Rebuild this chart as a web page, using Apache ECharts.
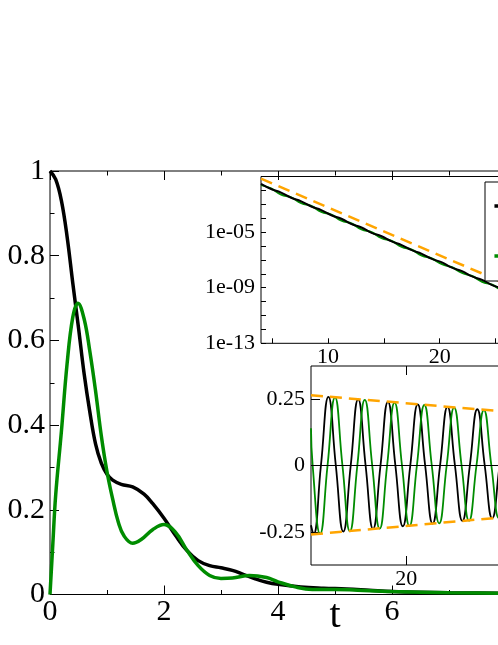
<!DOCTYPE html>
<html><head><meta charset="utf-8">
<script src="https://cdn.jsdelivr.net/npm/echarts@6/dist/echarts.min.js"></script>
<style>html,body{margin:0;padding:0;background:#fff}#c{width:498px;height:645px}</style>
</head><body><div id="c"></div>
<script>
// ---- main plot ----
const mainBlackT = [0, 0.1, 0.2, 0.3, 0.4, 0.5, 0.6, 0.7, 0.8, 0.9, 1.0, 1.1, 1.25, 1.45, 1.65, 1.8, 2.0, 2.2, 2.4, 2.6, 2.8, 3.0, 3.2, 3.4, 3.6, 3.8, 4.0, 4.4, 4.8, 5.2, 5.6, 6.0, 7.0, 8.0, 9.0, 10.0];
const mainBlack  = [1.0, 0.98, 0.93, 0.845, 0.735, 0.63, 0.52, 0.43, 0.355, 0.31, 0.284, 0.27, 0.26, 0.254, 0.237, 0.215, 0.18, 0.14, 0.104, 0.08, 0.068, 0.063, 0.057, 0.047, 0.037, 0.029, 0.024, 0.018, 0.015, 0.013, 0.01, 0.007, 0.004, 0.003, 0.002, 0.001];
const mainGreenT = [0, 0.05, 0.1, 0.2, 0.3, 0.4, 0.49, 0.6, 0.7, 0.8, 0.9, 1.0, 1.1, 1.2, 1.3, 1.45, 1.6, 1.8, 2.0, 2.2, 2.4, 2.6, 2.8, 3.0, 3.2, 3.5, 3.8, 4.0, 4.3, 4.6, 5.0, 5.4, 6.0, 7.0, 8.0, 9.0, 10.0];
const mainGreen  = [0, 0.12, 0.235, 0.385, 0.545, 0.655, 0.688, 0.65, 0.573, 0.48, 0.375, 0.29, 0.225, 0.17, 0.138, 0.121, 0.13, 0.153, 0.165, 0.147, 0.105, 0.068, 0.045, 0.038, 0.039, 0.045, 0.04, 0.03, 0.018, 0.012, 0.012, 0.01, 0.007, 0.004, 0.003, 0.002, 0.001];

// ---- inset 1 (log scale) ----
const logT = [4.0, 4.9, 5.8, 6.7, 7.6, 8.5, 9.4, 10.3, 11.2, 12.1, 13.0, 13.9, 14.8, 15.7, 16.6, 17.5, 18.4, 19.3, 20.2, 21.1, 22.0, 22.9, 23.8, 24.7, 25.6, 26.5, 27.4, 28.3, 29.2];
const logBlack = [2.95e-2, 1.26e-2, 6.92e-3, 2.95e-3, 1.62e-3, 6.92e-4, 3.80e-4, 1.62e-4, 9.12e-5, 3.80e-5, 2.14e-5, 8.91e-6, 5.01e-6, 2.14e-6, 1.17e-6, 5.01e-7, 2.75e-7, 1.17e-7, 6.61e-8, 2.75e-8, 1.55e-8, 6.46e-9, 3.63e-9, 1.55e-9, 8.51e-10, 3.63e-10, 2.00e-10, 8.51e-11, 4.79e-11];
const logGreen = [2.40e-2, 1.38e-2, 5.01e-3, 3.16e-3, 1.20e-3, 7.59e-4, 2.88e-4, 1.78e-4, 6.76e-5, 4.17e-5, 1.58e-5, 9.77e-6, 3.72e-6, 2.29e-6, 8.71e-7, 5.37e-7, 2.04e-7, 1.26e-7, 4.90e-8, 2.95e-8, 1.15e-8, 6.92e-9, 2.69e-9, 1.62e-9, 6.31e-10, 3.89e-10, 1.48e-10, 9.12e-11, 3.55e-11];
const logRefT = [4, 30];
const logRef  = [7.08e-2, 7.59e-11];
const inset1XLabels = [10, 20, 30];
const inset1XTicks  = [5, 10, 15, 20, 25, 30];
const inset1YLabelExps = [-13, -9, -5];

// ---- inset 2 (oscillations) ----
const oscBlackT = [14.25, 14.4, 14.85, 15.3, 15.75, 16.2, 16.65, 17.1, 17.55, 18.0, 18.45, 18.9, 19.35, 19.8, 20.25, 20.7, 21.15, 21.6, 22.05, 22.5, 22.95, 23.4, 23.85, 24.3, 24.75, 25.2, 25.65, 26.1, 26.55, 27.0];
const oscBlack  = [-0.225, -0.259, 0, 0.259, 0, -0.249, 0, 0.249, 0, -0.239, 0, 0.240, 0, -0.229, 0, 0.230, 0, -0.219, 0, 0.221, 0, -0.209, 0, 0.212, 0, -0.199, 0, 0.202, 0, -0.19];
const oscGreenT = [14.25, 14.35, 14.8, 15.25, 15.7, 16.15, 16.6, 17.05, 17.5, 17.95, 18.4, 18.85, 19.3, 19.75, 20.2, 20.65, 21.1, 21.55, 22.0, 22.45, 22.9, 23.35, 23.8, 24.25, 24.7, 25.15, 25.6, 26.05, 26.5, 26.95];
const oscGreen  = [0.14, 0, -0.258, 0, 0.257, 0, -0.248, 0, 0.247, 0, -0.238, 0, 0.237, 0, -0.228, 0, 0.228, 0, -0.218, 0, 0.218, 0, -0.208, 0, 0.209, 0, -0.198, 0, 0.199, 0];
const envT = [14.25, 30];
const envUpper = [0.265, 0.182];
const envLower = [-0.260, -0.172];
const inset2XLabels = [20, 30];
const inset2YLabels = [-0.25, 0, 0.25];

const legendNames = ['Re C(t)', 'Im C(t)'];

const BLACK = '#000000', GREEN = '#008c00', ORANGE = '#ffa500';
const FONT = '"Liberation Serif", "Times New Roman", serif';
const zip = (xs, ys) => xs.map((x, i) => [x, ys[i]]);

const chart = echarts.init(document.getElementById('c'), null, {renderer: 'canvas'});

const tickStyle = {lineStyle: {color: BLACK, width: 1}};
const gridBase = {show: true, borderColor: BLACK, borderWidth: 1, containLabel: false, outerBoundsMode: 'none', backgroundColor: 'transparent'};
chart.setOption({
  animation: false,
  backgroundColor: '#fff',
  grid: [
    {...gridBase, left: 50, top: 171, width: 570, height: 423.5},
    {...gridBase, left: 261, top: 176.5, width: 290.4, height: 166.8},
    {...gridBase, left: 311, top: 366, width: 260.6, height: 199}
  ],
  legend: {
    data: legendNames, orient: 'vertical', left: 485, top: 182,
    padding: [14, 5, 15, 7.7], itemGap: 30, itemWidth: 30, itemHeight: 14,
    borderColor: BLACK, borderWidth: 1, backgroundColor: '#fff',
    lineStyle: {width: 3.5},
    textStyle: {fontFamily: FONT, fontSize: 20, color: BLACK}, z: 10
  },
  xAxis: [
    {gridIndex: 0, type: 'value', min: 0, max: 10, interval: 2, position: 'bottom',
     axisLine: {show: false, onZero: false}, splitLine: {show: false},
     axisTick: {inside: true, length: 9, ...tickStyle},
     minorTick: {show: true, splitNumber: 2, length: 4.5, lineStyle: {color: BLACK}},
     axisLabel: {fontFamily: FONT, fontSize: 30, color: BLACK, margin: 3},
     name: 't', nameLocation: 'middle', nameGap: 2, nameMoveOverlap: false,
     nameTextStyle: {fontFamily: FONT, fontSize: 40, color: BLACK}},
    {gridIndex: 0, type: 'value', min: 0, max: 10, interval: 2, position: 'top',
     axisLine: {show: false, onZero: false}, splitLine: {show: false}, axisLabel: {show: false},
     axisTick: {inside: true, length: 9, ...tickStyle},
     minorTick: {show: true, splitNumber: 2, length: 4.5, lineStyle: {color: BLACK}}},
    {gridIndex: 1, type: 'value', min: 4, max: 30, position: 'bottom',
     axisLine: {show: false, onZero: false}, splitLine: {show: false},
     axisTick: {show: true, inside: true, length: 5, customValues: inset1XTicks, ...tickStyle},
     axisLabel: {customValues: inset1XLabels, fontFamily: FONT, fontSize: 22, color: BLACK, margin: 3}},
    {gridIndex: 2, type: 'value', min: 14.25, max: 30, position: 'bottom',
     axisLine: {show: false, onZero: false}, splitLine: {show: false},
     axisTick: {show: true, inside: true, length: 9, customValues: inset2XLabels, ...tickStyle},
     axisLabel: {customValues: inset2XLabels, fontFamily: FONT, fontSize: 22, color: BLACK, margin: 3}},
    {gridIndex: 2, type: 'value', min: 14.25, max: 30, position: 'top',
     axisLine: {show: false, onZero: false}, splitLine: {show: false}, axisLabel: {show: false},
     axisTick: {show: true, inside: true, length: 9, customValues: inset2XLabels, ...tickStyle}}
  ],
  yAxis: [
    {gridIndex: 0, type: 'value', min: 0, max: 1, interval: 0.2,
     axisLine: {show: false, onZero: false}, splitLine: {show: false},
     axisTick: {inside: true, length: 9, ...tickStyle},
     minorTick: {show: true, splitNumber: 2, length: 4.5, lineStyle: {color: BLACK}},
     axisLabel: {fontFamily: FONT, fontSize: 30, color: BLACK, margin: 5}},
    {gridIndex: 1, type: 'log', logBase: 10, min: 1e-13, max: 1e-1, interval: 1,
     axisLine: {show: false, onZero: false}, splitLine: {show: false},
     axisTick: {show: true, inside: true, length: 5, ...tickStyle},
     axisLabel: {fontFamily: FONT, fontSize: 22, color: BLACK, margin: 6,
       formatter: v => { const e = Math.round(Math.log10(v)); if (inset1YLabelExps.indexOf(e) < 0) return ''; const a = Math.abs(e); return '1e-' + (a < 10 ? '0' + a : a); }}},
    {gridIndex: 2, type: 'value', min: -0.375, max: 0.375,
     axisLine: {show: false, onZero: false}, splitLine: {show: false},
     axisTick: {show: true, inside: true, length: 9, customValues: inset2YLabels, ...tickStyle},
     axisLabel: {customValues: inset2YLabels, fontFamily: FONT, fontSize: 22, color: BLACK, margin: 6}}
  ],
  series: [
    {type: 'line', name: 'main black', xAxisIndex: 0, yAxisIndex: 0, data: zip(mainBlackT, mainBlack), smooth: 0.4, symbol: 'none', lineStyle: {color: BLACK, width: 3.5}},
    {type: 'line', name: 'main green', xAxisIndex: 0, yAxisIndex: 0, data: zip(mainGreenT, mainGreen), smooth: 0.4, symbol: 'none', lineStyle: {color: GREEN, width: 3.5}},
    {type: 'line', name: legendNames[1], xAxisIndex: 2, yAxisIndex: 1, data: zip(logT, logGreen), smooth: 0.5, symbol: 'none', color: GREEN, lineStyle: {color: GREEN, width: 2}},
    {type: 'line', name: legendNames[0], xAxisIndex: 2, yAxisIndex: 1, data: zip(logT, logBlack), smooth: 0.5, symbol: 'none', color: BLACK, lineStyle: {color: BLACK, width: 2}},
    {type: 'line', name: 'log ref', xAxisIndex: 2, yAxisIndex: 1, data: zip(logRefT, logRef), symbol: 'none', lineStyle: {color: ORANGE, width: 2.5, type: [12, 7]}},
    {type: 'line', name: 'osc black', xAxisIndex: 3, yAxisIndex: 2, data: zip(oscBlackT, oscBlack), smooth: 0.5, symbol: 'none', lineStyle: {color: BLACK, width: 1.8},
     markLine: {silent: true, symbol: ['none', 'none'], label: {show: false}, lineStyle: {color: BLACK, width: 1, type: 'solid'}, data: [{yAxis: 0}]}},
    {type: 'line', name: 'osc green', xAxisIndex: 3, yAxisIndex: 2, data: zip(oscGreenT, oscGreen), smooth: 0.5, symbol: 'none', lineStyle: {color: GREEN, width: 1.8}},
    {type: 'line', name: 'env up', xAxisIndex: 3, yAxisIndex: 2, data: zip(envT, envUpper), symbol: 'none', lineStyle: {color: ORANGE, width: 2.5, type: [12, 7]}},
    {type: 'line', name: 'env low', xAxisIndex: 3, yAxisIndex: 2, data: zip(envT, envLower), symbol: 'none', lineStyle: {color: ORANGE, width: 2.5, type: [12, 7]}}
  ]
});
</script></body></html>
